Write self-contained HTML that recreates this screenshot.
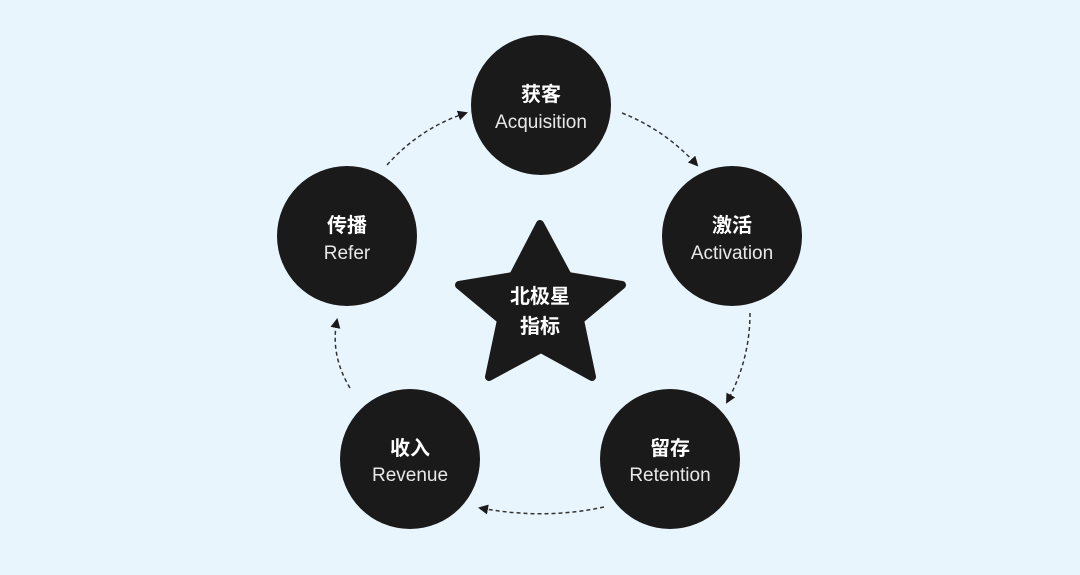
<!DOCTYPE html>
<html><head><meta charset="utf-8"><style>
html,body{margin:0;padding:0;background:#e9f5fc;}
svg{display:block}
.cn{font-family:"Liberation Sans","Noto Sans CJK SC",sans-serif;font-weight:bold;font-size:20px;fill:#fff}
.en{font-family:"Liberation Sans",sans-serif;font-size:19px;fill:#e8e8e8}
</style></head><body>
<svg width="1080" height="575" viewBox="0 0 1080 575">
<rect width="1080" height="575" fill="#e9f5fc"/>
<defs><marker id="a" markerWidth="10" markerHeight="10" refX="8" refY="5" orient="auto" markerUnits="userSpaceOnUse"><path d="M0,0 L10,5 L0,10 z" fill="#1a1a1a"/></marker></defs>
<g fill="none" stroke="#333" stroke-width="1.5" stroke-dasharray="4,3" marker-end="url(#a)">
<path d="M622,113 Q665,130 697,165"/>
<path d="M750,313 Q750,360 727,402"/>
<path d="M604,507 Q545,520 480,508"/>
<path d="M350,388 Q330,355 337,320"/>
<path d="M387,165 Q420,128 466,113"/>
</g>
<g fill="#1a1a1a">
<circle cx="541" cy="105" r="70"/>
<circle cx="732" cy="236" r="70"/>
<circle cx="670" cy="459" r="70"/>
<circle cx="410" cy="459" r="70"/>
<circle cx="347" cy="236" r="70"/>
<path d="M540,224 L568,276 L622,285 L580,320 L592,377 L541,349 L489,377 L501,320 L459,285 L513,276 Z" stroke="#1a1a1a" stroke-width="8" stroke-linejoin="round"/>
</g>
<g text-anchor="middle">
<text class="cn" x="541" y="101">获客</text><text class="en" x="541" y="128">Acquisition</text>
<text class="cn" x="732" y="232">激活</text><text class="en" x="732" y="259">Activation</text>
<text class="cn" x="670" y="455">留存</text><text class="en" x="670" y="481">Retention</text>
<text class="cn" x="410" y="455">收入</text><text class="en" x="410" y="481">Revenue</text>
<text class="cn" x="347" y="232">传播</text><text class="en" x="347" y="259">Refer</text>
<text class="cn" x="540" y="303">北极星</text>
<text class="cn" x="540" y="333">指标</text>
</g>
</svg>
</body></html>
